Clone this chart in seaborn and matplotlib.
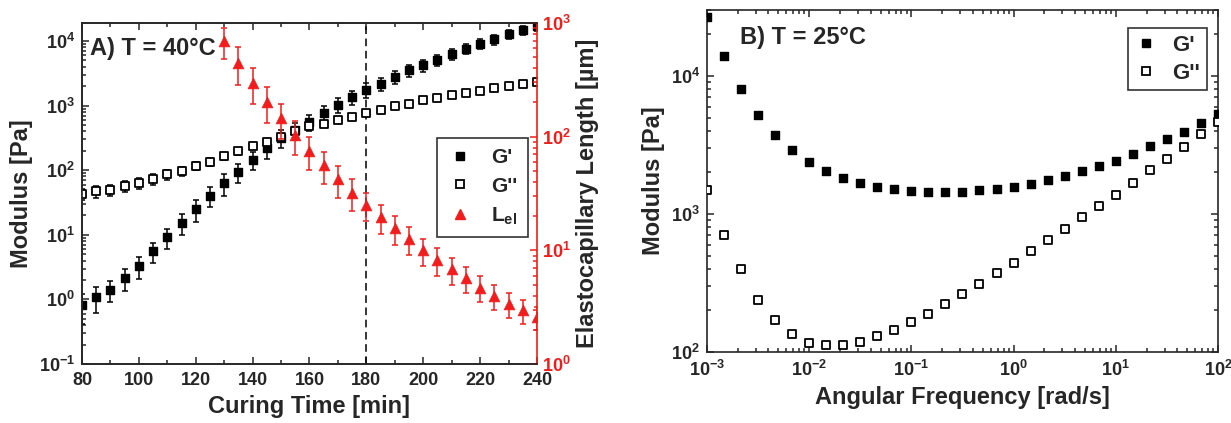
import matplotlib
matplotlib.use("Agg")
import matplotlib.pyplot as plt
import matplotlib.ticker as mticker
from matplotlib.lines import Line2D
import pandas as pd
import seaborn as sns

# Panel A: curing at 40 C
cure_time = [80, 85, 90, 95, 100, 105, 110, 115, 120, 125, 130, 135, 140, 145, 150, 155, 160,
             165, 170, 175, 180, 185, 190, 195, 200, 205, 210, 215, 220, 225, 230, 235, 240]
g_store_a = [0.81, 1.09, 1.41, 2.14, 3.3, 5.6, 9.2, 15.4, 25, 40.5, 63, 95, 144, 221, 316, 420, 555,
             780, 1040, 1360, 1770, 2190, 2770, 3520, 4200, 5150, 6330, 7600, 9100, 10600, 12700, 14600, 16900]
g_store_a_err = [0.4, 0.47, 0.5, 0.8, 1.2, 1.9, 3.2, 5.5, 9, 14, 23, 32, 45, 70, 98, 125, 155,
                 210, 280, 350, 440, 520, 630, 770, 880, 1030, 1210, 1400, 1640, 1800, 2050, 2250, 2500]
g_loss_a = [43, 47, 50, 57, 63, 73, 86, 96, 117, 136, 165, 195, 235, 277, 330, 408, 475,
            520, 600, 660, 770, 860, 970, 1070, 1210, 1330, 1440, 1570, 1690, 1850, 1990, 2130, 2300]
g_loss_a_err = [9, 10, 10, 11, 12, 13, 15, 16, 18, 19, 21, 23, 25, 27, 30, 34, 36,
                35, 38, 40, 44, 45, 48, 50, 54, 56, 58, 60, 63, 66, 70, 72, 75]
lel_time = [130, 135, 140, 145, 150, 155, 160, 165, 170, 175, 180, 185, 190, 195, 200,
            205, 210, 215, 220, 225, 230, 235, 240]
lel = [690, 447, 299, 203, 145, 103, 75, 56, 42, 32, 25, 19.5, 15.6, 12.5, 10,
       8.2, 6.8, 5.7, 4.7, 4.0, 3.4, 2.96, 2.6]
lel_err = [210, 165, 105, 72, 50, 34, 24, 18, 13, 10, 7, 5.6, 4.4, 3.4, 2.7,
           2.2, 1.8, 1.5, 1.2, 1.0, 0.85, 0.7, 0.6]

# Panel B: frequency sweep at 25 C
freq = [0.001, 0.00147, 0.00215, 0.00316, 0.00464, 0.00681, 0.01, 0.0147, 0.0215, 0.0316, 0.0464,
        0.0681, 0.1, 0.147, 0.215, 0.316, 0.464, 0.681, 1, 1.47, 2.15, 3.16, 4.64, 6.81, 10,
        14.7, 21.5, 31.6, 46.4, 68.1, 100]
g_store_b = [26900, 13900, 8050, 5240, 3750, 2890, 2370, 2040, 1820, 1680, 1560,
             1510, 1470, 1450, 1440, 1450, 1490, 1520, 1570, 1650, 1760, 1880, 2040, 2230, 2410,
             2730, 3090, 3480, 3960, 4580, 5290]
g_loss_b = [1490, 700, 401, 240, 172, 134, 117, 112, 113, 118, 130,
            144, 165, 190, 223, 263, 309, 371, 443, 536, 648, 782, 945, 1140, 1380,
            1680, 2070, 2510, 3080, 3810, 4660]

sns.set_style("ticks")
plt.rcParams["font.family"] = ["Liberation Sans", "DejaVu Sans"]
plt.rcParams["font.weight"] = "bold"
plt.rcParams["axes.labelweight"] = "bold"
plt.rcParams["axes.linewidth"] = 1.2
plt.rcParams["xtick.direction"] = "in"
plt.rcParams["ytick.direction"] = "in"

RED = "#f21c1c"

fig = plt.figure(figsize=(12.31, 4.23), dpi=100)
ax = fig.add_axes([0.0666, 0.1395, 0.3696, 0.8061])
ax2 = ax.twinx()
bx = fig.add_axes([0.5743, 0.1678, 0.4151, 0.8082])

df_a = pd.DataFrame({"t": cure_time, "gs": g_store_a, "gl": g_loss_a})
df_l = pd.DataFrame({"t": lel_time, "lel": lel})
df_b = pd.DataFrame({"w": freq, "gs": g_store_b, "gl": g_loss_b})

# error bars first, markers on top
ax.errorbar(cure_time, g_store_a, yerr=g_store_a_err, fmt="none", ecolor="black",
            elinewidth=1.1, capsize=2.5, capthick=1.1, zorder=2)
ax.errorbar(cure_time, g_loss_a, yerr=g_loss_a_err, fmt="none", ecolor="black",
            elinewidth=1.1, capsize=2.5, capthick=1.1, zorder=2)
sns.scatterplot(data=df_a, x="t", y="gs", marker="s", s=38, color="black",
                edgecolor="black", linewidth=1, ax=ax, zorder=3)
sns.scatterplot(data=df_a, x="t", y="gl", marker="s", s=34, facecolor="white",
                edgecolor="black", linewidth=1.3, ax=ax, zorder=3)
ax.axvline(180, color="black", ls=(0, (5, 3)), lw=1.1, zorder=1)

ax2.errorbar(lel_time, lel, yerr=lel_err, fmt="none", ecolor=RED,
             elinewidth=1.1, capsize=2.5, capthick=1.1, zorder=2)
sns.scatterplot(data=df_l, x="t", y="lel", marker="^", s=60, color=RED,
                edgecolor=RED, linewidth=0.5, ax=ax2, zorder=3)

ax.set_yscale("log")
ax.set_xlim(80, 240)
ax.set_ylim(0.1, 1.9e4)
ax2.set_yscale("log")
ax2.set_ylim(1, 1000)
ax.xaxis.set_major_locator(mticker.MultipleLocator(20))
ax.xaxis.set_minor_locator(mticker.MultipleLocator(10))
ax.set_xlabel("Curing Time [min]", fontsize=17)
ax.set_ylabel("Modulus [Pa]", fontsize=17)
ax2.set_ylabel("Elastocapillary Length [µm]", fontsize=17)
ax.tick_params(which="both", top=True, right=False, labelsize=13, width=1.1)
ax.tick_params(which="major", length=5)
ax.tick_params(which="minor", length=3)
ax.tick_params(axis="x", pad=6)
ax.tick_params(axis="y", pad=5)
ax2.tick_params(which="both", colors=RED, labelsize=13, width=1.1)
ax2.tick_params(which="major", length=5)
ax2.tick_params(which="minor", length=3)
ax2.spines["right"].set_color(RED)
ax2.spines["right"].set_linewidth(1.2)
ax.spines["right"].set_visible(False)
ax.text(0.018, 0.96, "A) T = 40°C", transform=ax.transAxes, fontsize=17,
        fontweight="bold", va="top", ha="left")
ax.legend_ = None
ax2.legend_ = None

handles_a = [
    Line2D([], [], ls="none", marker="s", ms=6, color="black", label="G'"),
    Line2D([], [], ls="none", marker="s", ms=6, mfc="white", mec="black", mew=1.3, label="G''"),
    Line2D([], [], ls="none", marker="^", ms=7, color=RED, label="L$_{\\mathdefault{el}}$"),
]
leg = ax2.legend(handles=handles_a, loc="upper right", bbox_to_anchor=(0.98, 0.663),
                 borderaxespad=0, fontsize=15, frameon=True, fancybox=False,
                 edgecolor="black", handletextpad=0.9, borderpad=0.5,
                 labelspacing=0.45, handlelength=1.2)
leg.get_frame().set_linewidth(1.2)

# Panel B
sns.scatterplot(data=df_b, x="w", y="gs", marker="s", s=38, color="black",
                edgecolor="black", linewidth=1, ax=bx, zorder=3)
sns.scatterplot(data=df_b, x="w", y="gl", marker="s", s=34, facecolor="white",
                edgecolor="black", linewidth=1.3, ax=bx, zorder=3)
bx.set_xscale("log")
bx.set_yscale("log")
bx.set_xlim(1e-3, 1e2)
bx.set_ylim(100, 3e4)
bx.set_xlabel("Angular Frequency [rad/s]", fontsize=17)
bx.set_ylabel("Modulus [Pa]", fontsize=17)
bx.tick_params(which="both", top=True, right=True, labelsize=13, width=1.1)
bx.tick_params(which="major", length=5)
bx.tick_params(which="minor", length=3)
bx.tick_params(axis="x", pad=6)
bx.tick_params(axis="y", pad=5)
bx.text(0.064, 0.955, "B) T = 25°C", transform=bx.transAxes, fontsize=17,
        fontweight="bold", va="top", ha="left")
handles_b = [
    Line2D([], [], ls="none", marker="s", ms=6, color="black", label="G'"),
    Line2D([], [], ls="none", marker="s", ms=6, mfc="white", mec="black", mew=1.3, label="G''"),
]
leg_b = bx.legend(handles=handles_b, loc="upper right", bbox_to_anchor=(0.978, 0.947),
                  borderaxespad=0, fontsize=16, frameon=True, fancybox=False,
                  edgecolor="black", handletextpad=0.7, borderpad=0.3,
                  labelspacing=0.3, handlelength=1.0)
leg_b.get_frame().set_linewidth(1.2)

fig.savefig("out.png", dpi=100)
